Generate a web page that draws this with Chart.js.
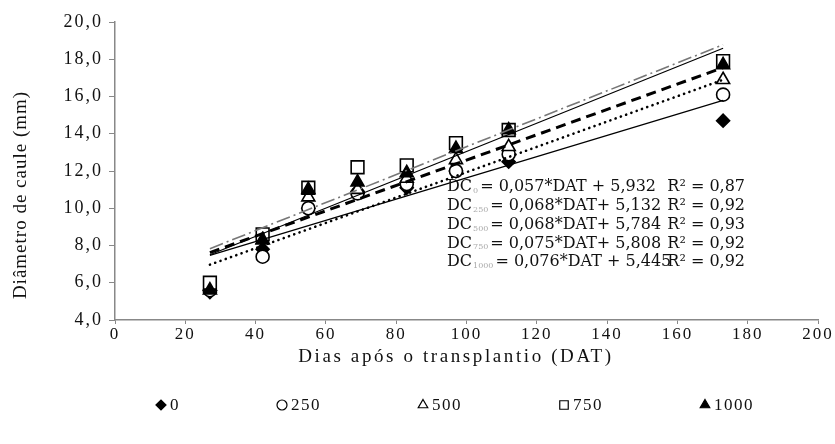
<!DOCTYPE html>
<html>
<head>
<meta charset="utf-8">
<script src="https://cdn.jsdelivr.net/npm/chart.js@4.4.0/dist/chart.umd.min.js"></script>
<style>
  html, body { margin: 0; padding: 0; background: #fff; }
  #wrap { width: 835px; height: 444px; }
</style>
</head>
<body>
<div id="wrap"><canvas id="chart" width="835" height="444"></canvas></div>
<script>
// Dias após o transplantio (DAT)
const dat = [27, 42, 55, 69, 83, 97, 112, 173];
const doses = ['0', '250', '500', '750', '1000'];

// Diâmetro de caule (mm) por dose
const dc0 = [5.5, 7.8, 10.0, 10.9, 11.1, 12.0, 12.5, 14.7];
const dc250 = [5.6, 7.4, 10.0, 10.8, 11.3, 12.0, 12.9, 16.1];
const dc500 = [5.8, 8.3, 10.6, 11.0, 11.6, 12.6, 13.3, 16.9];
const dc750 = [6.0, 8.6, 11.1, 12.2, 12.3, 13.5, 14.2, 17.9];
const dc1000 = [5.6, 8.3, 11.0, 11.4, 11.9, 13.2, 14.2, 17.7];

// linhas de tendência (início e fim)
const trendX = [27, 173];
const trend0 = [7.47, 15.79];
const trend250 = [6.97, 16.90];
const trend500 = [7.62, 17.55];
const trend750 = [7.83, 18.78];
const trend1000 = [7.50, 18.59];

// equações
const eqSub = ['0', '250', '500', '750', '1000'];
const eqBody = ['= 0,057*DAT + 5,932', '= 0,068*DAT+ 5,132', '= 0,068*DAT+ 5,784', '= 0,075*DAT+ 5,808', '= 0,076*DAT + 5,445'];
const eqR2 = ['R² = 0,87', 'R² = 0,92', 'R² = 0,93', 'R² = 0,92', 'R² = 0,92'];

const serif = "'Liberation Serif', 'Times New Roman', serif";
const legendRadius = [5, 5, 5.5, 6, 5.5];

function pts(ys, xs) {
    return ys.map((y, i) => ({ x: xs[i], y: y }));
}

function markers(label, ys, style, fill, radius, order) {
    return {
        label: label,
        data: pts(ys, dat),
        pointStyle: style,
        pointRadius: radius,
        pointHoverRadius: radius,
        pointBackgroundColor: fill,
        pointBorderColor: '#000',
        pointBorderWidth: 1.6,
        backgroundColor: fill,
        borderColor: '#000',
        showLine: false,
        order: order
    };
}

function trend(ys, color, width, dash) {
    return {
        label: '',
        data: pts(ys, trendX),
        showLine: true,
        borderColor: color,
        borderWidth: width,
        borderDash: dash,
        borderCapStyle: dash.length === 2 && dash[0] < 1 ? 'round' : 'butt',
        pointRadius: 0,
        pointHoverRadius: 0,
        order: 0
    };
}

const textPlugin = {
    id: 'texts',
    beforeUpdate(chart) { chart.ctx.letterSpacing = '2px'; },
    beforeDraw(chart) { chart.ctx.letterSpacing = '2px'; },
    afterDraw(chart) {
        const ctx = chart.ctx;
        ctx.save();
        ctx.fillStyle = '#111';

        // título eixo y
        ctx.save();
        ctx.font = '19px ' + serif;
        ctx.letterSpacing = '1px';
        ctx.textAlign = 'center';
        ctx.textBaseline = 'middle';
        ctx.translate(21, 195);
        ctx.rotate(-Math.PI / 2);
        ctx.fillText('Diâmetro de caule (mm)', 0, 0);
        ctx.restore();

        // título eixo x
        ctx.save();
        ctx.font = '19px ' + serif;
        ctx.letterSpacing = '2.6px';
        ctx.textAlign = 'center';
        ctx.textBaseline = 'middle';
        ctx.fillText('Dias após o transplantio (DAT)', 456, 357);
        ctx.restore();

        // equações
        const x0 = 447, right = 745;
        const y0 = 187, step = 18.8;
        for (let i = 0; i < eqSub.length; i++) {
            const y = y0 + i * step;
            ctx.letterSpacing = '0px';
            ctx.textBaseline = 'middle';
            ctx.textAlign = 'left';
            ctx.font = "16px 'DejaVu Serif', serif";
            ctx.fillStyle = '#111';
            ctx.fillText('DC', x0, y);
            let x = x0 + ctx.measureText('DC').width;
            ctx.font = "8px 'DejaVu Serif', serif";
            ctx.fillStyle = '#aaa';
            ctx.fillText(eqSub[i], x + 1, y + 4);
            x += ctx.measureText(eqSub[i]).width + 3;
            ctx.font = "16px 'DejaVu Serif', serif";
            ctx.fillStyle = '#111';
            ctx.fillText(eqBody[i], x, y);
            ctx.textAlign = 'right';
            ctx.fillText(eqR2[i], right, y);
        }

        // legenda
        ctx.font = '17px ' + serif;
        ctx.letterSpacing = '1.5px';
        ctx.textAlign = 'left';
        ctx.textBaseline = 'middle';
        let lx = 161;
        const ly = 405;
        for (let i = 0; i < doses.length; i++) {
            const ds = chart.data.datasets[i];
            ctx.fillStyle = ds.pointBackgroundColor;
            ctx.strokeStyle = '#000';
            ctx.lineWidth = 1.2;
            Chart.helpers.drawPoint(ctx, {
                pointStyle: ds.pointStyle,
                radius: legendRadius[i],
                borderWidth: 1.2,
                rotation: 0
            }, lx, ly);
            ctx.fillStyle = '#111';
            ctx.fillText(doses[i], lx + 9, ly + 1);
            lx += 9 + ctx.measureText(doses[i]).width + 102;
        }
        ctx.restore();
    }
};

const ctx = document.getElementById('chart').getContext('2d');
new Chart(ctx, {
    type: 'scatter',
    data: {
        datasets: [
            markers(doses[0], dc0, 'rectRot', '#000', 6.5, 5),
            markers(doses[1], dc250, 'circle', '#fff', 6.5, 4),
            markers(doses[2], dc500, 'triangle', '#fff', 7.5, 3),
            markers(doses[3], dc750, 'rect', '#fff', 9, 2),
            markers(doses[4], dc1000, 'triangle', '#000', 7.5, 1),
            trend(trend0, '#000', 1.2, []),
            trend(trend250, '#000', 2.6, [0.1, 5.5]),
            trend(trend500, '#000', 3, [10, 6]),
            trend(trend750, '#777', 1.6, [14, 4, 2, 4]),
            trend(trend1000, '#000', 1.2, [])
        ]
    },
    plugins: [textPlugin],
    options: {
        responsive: false,
        animation: false,
        layout: { padding: { top: 22, right: 17, left: 0, bottom: 0 } },
        plugins: {
            tooltip: { enabled: false },
            legend: { display: false }
        },
        scales: {
            x: {
                type: 'linear',
                min: 0,
                max: 200,
                afterFit: s => { s.height = 124; },
                ticks: { stepSize: 20, color: '#111', padding: 0, font: { family: serif, size: 17 } },
                grid: { drawOnChartArea: false, color: '#888', tickLength: 4 },
                border: { color: '#888', width: 1.5 }
            },
            y: {
                min: 4,
                max: 20,
                afterFit: s => { s.width = 115; },
                ticks: {
                    stepSize: 2,
                    color: '#111',
                    padding: 6,
                    font: { family: serif, size: 18 },
                    callback: v => v.toFixed(1).replace('.', ',')
                },
                grid: { drawOnChartArea: false, color: '#888', tickLength: 6 },
                border: { color: '#888', width: 1.5 }
            }
        }
    }
});
</script>
</body>
</html>
